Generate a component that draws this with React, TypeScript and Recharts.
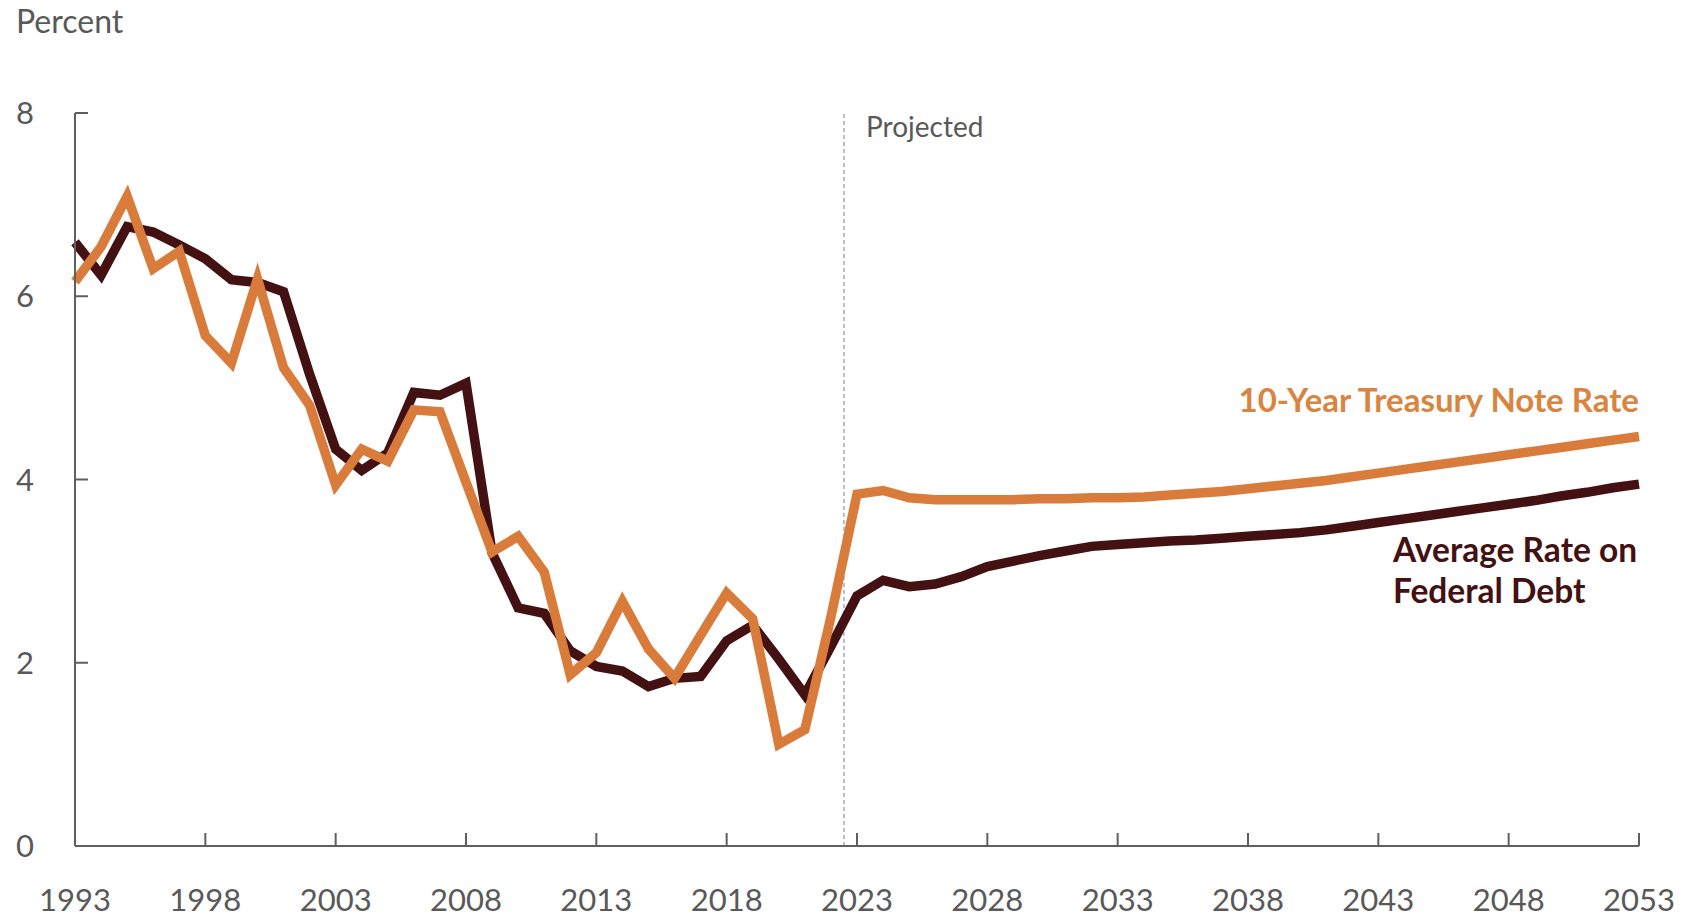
import { LineChart, Line, XAxis, YAxis, ReferenceLine } from 'recharts'

const years = Array.from({ length: 61 }, (_, i) => 1993 + i)

// 10-year Treasury note rate, percent (actual through 2022, projected after)
const treasuryRate = [
  6.16, 6.54, 7.09, 6.3, 6.49, 5.57, 5.27, 6.19, 5.22, 4.81,
  3.94, 4.33, 4.2, 4.76, 4.74, 3.97, 3.21, 3.38, 2.99, 1.87,
  2.11, 2.67, 2.15, 1.83, 2.3, 2.76, 2.48, 1.11, 1.27, 2.5,
  3.84, 3.88, 3.8, 3.78, 3.78, 3.78, 3.78, 3.79, 3.79, 3.8,
  3.8, 3.81, 3.83, 3.85, 3.87, 3.9, 3.93, 3.96, 3.99, 4.03,
  4.07, 4.11, 4.15, 4.19, 4.23, 4.27, 4.31, 4.35, 4.39, 4.43,
  4.47,
]

// average interest rate on federal debt, percent
const debtRate = [
  6.59, 6.23, 6.76, 6.7, 6.56, 6.41, 6.18, 6.15, 6.05, 5.15,
  4.33, 4.1, 4.29, 4.95, 4.92, 5.05, 3.2, 2.6, 2.54, 2.13,
  1.96, 1.91, 1.74, 1.83, 1.85, 2.24, 2.41, 2.04, 1.65, 2.18,
  2.73, 2.9, 2.83, 2.86, 2.94, 3.05, 3.11, 3.17, 3.22, 3.27,
  3.29, 3.31, 3.33, 3.34, 3.36, 3.38, 3.4, 3.42, 3.45, 3.49,
  3.53, 3.57, 3.61, 3.65, 3.69, 3.73, 3.77, 3.82, 3.86, 3.91,
  3.95,
]

const xTicks = [1993, 1998, 2003, 2008, 2013, 2018, 2023, 2028, 2033, 2038, 2043, 2048, 2053]
const yTicks = [0, 2, 4, 6, 8]
const projectionStart = 2022.5

const data = years.map((year, i) => ({
  year,
  treasury: treasuryRate[i],
  debt: debtRate[i],
}))

const W = 1683
const H = 920
const PLOT_LEFT = 75
const PLOT_BOTTOM = 846
const FONT = 'Lato, "Open Sans", sans-serif'
const AXIS = '#5f5f5f'
const TEXT = '#595959'
const ORANGE = '#d97c3b'
const DARK = '#431112'

function YTick({ y, payload }: { y: number; payload: { value: number } }) {
  return (
    <g>
      {payload.value > 0 && (
        <line x1={PLOT_LEFT} x2={PLOT_LEFT + 13} y1={y} y2={y} stroke={AXIS} strokeWidth={2} />
      )}
      <text x={16} y={y} dy={11} fontSize={31} fontFamily={FONT} fill={TEXT}>
        {payload.value}
      </text>
    </g>
  )
}

function XTick({ x, payload }: { x: number; payload: { value: number } }) {
  return (
    <g>
      <line x1={x} x2={x} y1={PLOT_BOTTOM} y2={PLOT_BOTTOM - 13} stroke={AXIS} strokeWidth={2} />
      <text x={x} y={911} textAnchor="middle" fontSize={31} fontFamily={FONT} fill={TEXT}>
        {payload.value}
      </text>
    </g>
  )
}

export default function App() {
  return (
    <div style={{ position: 'absolute', left: 0, top: 0, width: W, height: H, background: '#fff' }}>
      <LineChart
        width={W}
        height={H}
        data={data}
        margin={{ top: 113, right: 44, bottom: 14, left: 16 }}
      >
        <XAxis
          type="number"
          dataKey="year"
          domain={[1993, 2053]}
          ticks={xTicks}
          height={60}
          axisLine={{ stroke: AXIS, strokeWidth: 2 }}
          tickLine={false}
          tick={XTick}
          interval={0}
        />
        <YAxis
          domain={[0, 8]}
          ticks={yTicks}
          width={59}
          axisLine={{ stroke: AXIS, strokeWidth: 2 }}
          tickLine={false}
          tick={YTick}
          interval={0}
        />
        <ReferenceLine x={projectionStart} stroke="#808080" strokeWidth={1} strokeDasharray="4 3" />
        <Line
          type="linear"
          dataKey="debt"
          stroke={DARK}
          strokeWidth={9.5}
          dot={false}
          isAnimationActive={false}
        />
        <Line
          type="linear"
          dataKey="treasury"
          stroke={ORANGE}
          strokeWidth={9.5}
          dot={false}
          isAnimationActive={false}
        />
      </LineChart>
      <svg
        width={W}
        height={H}
        style={{ position: 'absolute', left: 0, top: 0, pointerEvents: 'none' }}
        fontFamily={FONT}
      >
        <text x={16} y={33} fontSize={32} fill={TEXT}>Percent</text>
        <text x={866} y={137} fontSize={28} fill={TEXT}>Projected</text>
        <text x={1639} y={412} fontSize={33} fontWeight={700} fill="#d9843f" textAnchor="end">
          10-Year Treasury Note Rate
        </text>
        <text x={1393} y={562} fontSize={33.5} fontWeight={700} fill={DARK}>Average Rate on</text>
        <text x={1393} y={603} fontSize={33.5} fontWeight={700} fill={DARK}>Federal Debt</text>
      </svg>
    </div>
  )
}
